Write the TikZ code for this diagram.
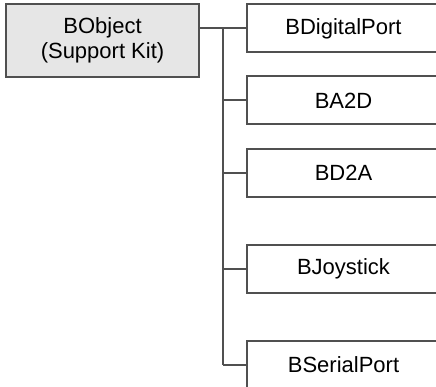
\documentclass[tikz,border=0pt]{standalone}
\usepackage{fontspec}
\setmainfont{Liberation Sans}
\definecolor{linegray}{HTML}{505050}
\definecolor{kitgray}{HTML}{E6E6E6}
\tikzset{
  classbox/.style={draw=linegray, line width=2pt, rectangle, minimum width=193pt,
    minimum height=48pt, inner sep=0pt, align=center,
    font=\fontsize{22}{25}\selectfont},
  link/.style={draw=linegray, line width=2pt}
}
\begin{document}
\begin{tikzpicture}[x=1pt,y=-1pt]
  \useasboundingbox (0,0) rectangle (436,387);
  \clip (0,0) rectangle (436,387);
  % base class
  \node [classbox, fill=kitgray, minimum height=73pt] (obj) at (102.5,40.5) {BObject\\(Support Kit)};
  % derived classes
  \node [classbox] (dig) at (343.5,28.5) {BDigitalPort};
  \node [classbox] (a2d) at (343.5,100.5) {BA2D};
  \node [classbox] (d2a) at (343.5,173) {BD2A};
  \node [classbox] (joy) at (343.5,269) {BJoystick};
  \node [classbox] (ser) at (343.5,365) {BSerialPort};
  % tree lines
  \coordinate (top) at (223,28.5);
  \coordinate (bot) at (223,365);
  \draw [link] (obj.east |- dig.west) -- (dig.west);
  \draw [link] (top) -- (bot);
  \draw [link] (a2d.west) -- (a2d.west -| top);
  \draw [link] (d2a.west) -- (d2a.west -| top);
  \draw [link] (joy.west) -- (joy.west -| top);
  \draw [link] (ser.west) -- (ser.west -| top);
\end{tikzpicture}
\end{document}
